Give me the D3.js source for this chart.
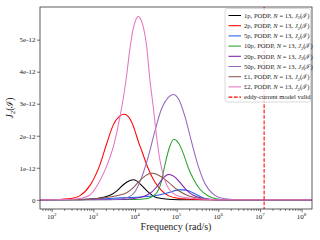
<!DOCTYPE html>
<html>
<head>
<meta charset="utf-8">
<script src="https://cdn.jsdelivr.net/npm/d3@7/dist/d3.min.js"></script>
<style>
body { margin: 0; background: #fff; }
svg { display: block; }
text { font-family: "Liberation Serif", "DejaVu Serif", serif; fill: #222; }
</style>
</head>
<body>
<div id="chart"></div>
<script>
// log10 of frequency (rad/s) and J2 values (in units of 1e-12)
const lw1p = [1.7, 2.5, 2.9, 3.08, 3.24, 3.40, 3.56, 3.72, 3.88, 3.96, 4.04, 4.16, 4.32, 4.48, 4.64, 4.9, 5.2, 6, 8.3];
const j1p  = [0, 0.003, 0.02, 0.04, 0.08, 0.14, 0.27, 0.47, 0.60, 0.625, 0.59, 0.45, 0.24, 0.09, 0.04, 0.01, 0, 0, 0];

const lw2p = [1.7, 2.0, 2.25, 2.5, 2.68, 2.92, 3.16, 3.32, 3.48, 3.64, 3.74, 3.84, 3.92, 4.0, 4.08, 4.16, 4.32, 4.48, 4.64, 4.80, 5.03, 5.5, 6, 8.3];
const j2p  = [0, 0.01, 0.02, 0.05, 0.13, 0.45, 1.1, 1.75, 2.34, 2.62, 2.67, 2.6, 2.43, 2.15, 1.82, 1.54, 0.97, 0.55, 0.29, 0.13, 0.05, 0.01, 0, 0];

const lw5p = [1.7, 2.0, 2.6, 3.16, 3.64, 4.12, 4.48, 4.8, 5.04, 5.16, 5.28, 5.44, 5.60, 5.76, 6.0, 8.3];
const j5p  = [0, 0.005, 0.01, 0.03, 0.06, 0.09, 0.13, 0.22, 0.31, 0.31, 0.28, 0.19, 0.08, 0.02, 0, 0];

const lw10p = [1.7, 4.0, 4.3, 4.44, 4.56, 4.64, 4.72, 4.84, 4.93, 5.04, 5.16, 5.28, 5.40, 5.56, 5.76, 5.92, 6.2, 8.3];
const j10p  = [0, 0.01, 0.04, 0.12, 0.3, 0.6, 1.1, 1.68, 1.89, 1.78, 1.45, 1.0, 0.66, 0.33, 0.12, 0.04, 0, 0];

const lw20p = [1.7, 3.6, 3.9, 4.12, 4.28, 4.40, 4.52, 4.68, 4.80, 4.90, 5.0, 5.12, 5.24, 5.40, 5.52, 5.8, 6.2, 8.3];
const j20p  = [0, 0.01, 0.03, 0.07, 0.14, 0.24, 0.40, 0.68, 0.79, 0.76, 0.66, 0.48, 0.3, 0.14, 0.08, 0.02, 0, 0];

const lw50p = [1.7, 3.2, 3.6, 3.84, 4.0, 4.16, 4.32, 4.48, 4.64, 4.80, 4.92, 5.04, 5.20, 5.36, 5.52, 5.64, 5.76, 5.92, 6.16, 6.5, 8.3];
const j50p  = [0, 0, 0.02, 0.08, 0.25, 0.7, 1.35, 2.15, 2.85, 3.2, 3.29, 3.16, 2.6, 1.8, 1.05, 0.62, 0.34, 0.14, 0.03, 0, 0];

const lwL1 = [1.7, 2.6, 3.16, 3.64, 3.80, 3.96, 4.08, 4.2, 4.3, 4.40, 4.52, 4.64, 4.80, 5.04, 5.28, 5.52, 5.8, 6.2, 8.3];
const jL1  = [0, 0.01, 0.05, 0.15, 0.22, 0.38, 0.55, 0.7, 0.79, 0.83, 0.80, 0.71, 0.55, 0.29, 0.13, 0.05, 0.01, 0, 0];

const lwL2 = [1.7, 2.5, 2.7, 2.92, 3.16, 3.32, 3.48, 3.64, 3.72, 3.80, 3.88, 3.96, 4.04, 4.08, 4.12, 4.2, 4.28, 4.36, 4.44, 4.52, 4.60, 4.72, 4.88, 5.12, 5.36, 5.7, 6.2, 8.3];
const jL2  = [0, 0.02, 0.05, 0.15, 0.6, 1.05, 1.65, 2.6, 3.17, 3.89, 4.73, 5.35, 5.67, 5.73, 5.68, 5.4, 4.8, 3.73, 2.89, 1.96, 1.23, 0.60, 0.24, 0.09, 0.05, 0.02, 0, 0];

const coinLabels = ["1p", "2p", "5p", "10p", "20p", "50p", "£1", "£2"];
const coinColors = ["#000000", "#ff0000", "#1f5fe8", "#2ca02c", "#7f1fb0", "#9467bd", "#8c564b", "#e377c2"];
const eddyLimit = 1.26e7;

const yTickValues = [0, 1, 2, 3, 4, 5];
const yTickLabels = ["0", "1e-12", "2e-12", "3e-12", "4e-12", "5e-12"];
const xTickExponents = [2, 3, 4, 5, 6, 7, 8];

const serif = "'Liberation Serif', 'DejaVu Serif', serif";

const series = [
    [lw1p, j1p], [lw2p, j2p], [lw5p, j5p], [lw10p, j10p],
    [lw20p, j20p], [lw50p, j50p], [lwL1, jL1], [lwL2, jL2]
].map(function(s, i) {
    return {
        label: coinLabels[i],
        color: coinColors[i],
        values: s[0].map(function(lw, k) { return { f: Math.pow(10, lw), j: s[1][k] }; })
    };
});

const width = 320, height = 240;
const margin = { top: 7, right: 8, bottom: 31, left: 40 };

const x = d3.scaleLog()
    .domain([Math.pow(10, 1.72), Math.pow(10, 8.25)])
    .range([margin.left, width - margin.right]);

const y = d3.scaleLinear()
    .domain([-0.287, 6.02])
    .range([height - margin.bottom, margin.top]);

const svg = d3.select("#chart").append("svg")
    .attr("width", width)
    .attr("height", height);

svg.append("clipPath").attr("id", "clip")
    .append("rect")
    .attr("x", margin.left).attr("y", margin.top)
    .attr("width", width - margin.left - margin.right)
    .attr("height", height - margin.top - margin.bottom);

// x axis: major + minor ticks
const majorTicks = xTickExponents.map(function(e) { return Math.pow(10, e); });
const minorTicks = x.ticks().filter(function(t) {
    return majorTicks.indexOf(t) < 0;
});

const xAxisMinor = svg.append("g")
    .attr("transform", "translate(0," + (height - margin.bottom) + ")")
    .call(d3.axisBottom(x).tickValues(minorTicks).tickSize(1.8).tickFormat(""));
const xAxisMajor = svg.append("g")
    .attr("transform", "translate(0," + (height - margin.bottom) + ")")
    .call(d3.axisBottom(x).tickValues(majorTicks).tickSize(3.2).tickFormat(""));
[xAxisMinor, xAxisMajor].forEach(function(g) {
    g.select(".domain").remove();
    g.selectAll("line").attr("stroke", "#333").attr("stroke-width", 0.7);
});

const xLabels = svg.append("g");
xTickExponents.forEach(function(e) {
    const t = xLabels.append("text")
        .attr("x", x(Math.pow(10, e)))
        .attr("y", 219)
        .attr("text-anchor", "middle")
        .style("font-family", serif)
        .style("font-size", "7px");
    t.append("tspan").text("10");
    t.append("tspan").attr("dy", -3).style("font-size", "5px").text(e);
});

// y axis
const yAxis = svg.append("g")
    .attr("transform", "translate(" + margin.left + ",0)")
    .call(d3.axisLeft(y).tickValues(yTickValues).tickSize(3.2)
        .tickFormat(function(d, i) { return yTickLabels[i]; }));
yAxis.select(".domain").remove();
yAxis.selectAll("line").attr("stroke", "#333").attr("stroke-width", 0.7);
yAxis.selectAll("text")
    .attr("x", -4.5)
    .style("font-size", "7px")
    .style("font-family", serif)
    .attr("fill", "#222");

// curves
const line = d3.line()
    .x(function(d) { return x(d.f); })
    .y(function(d) { return y(d.j); })
    .curve(d3.curveMonotoneX);

const plot = svg.append("g").attr("clip-path", "url(#clip)");

series.forEach(function(s) {
    plot.append("path")
        .datum(s.values)
        .attr("fill", "none")
        .attr("stroke", s.color)
        .attr("stroke-width", 1.05)
        .attr("d", line);
});

plot.append("line")
    .attr("x1", x(eddyLimit)).attr("x2", x(eddyLimit))
    .attr("y1", margin.top).attr("y2", height - margin.bottom)
    .attr("stroke", "#ff0000")
    .attr("stroke-width", 1.05)
    .attr("stroke-dasharray", "3.8,1.6");

// frame
svg.append("rect")
    .attr("x", margin.left).attr("y", margin.top)
    .attr("width", width - margin.left - margin.right)
    .attr("height", height - margin.top - margin.bottom)
    .attr("fill", "none")
    .attr("stroke", "#333")
    .attr("stroke-width", 0.8);

// axis titles
svg.append("text")
    .attr("x", (margin.left + width - margin.right) / 2)
    .attr("y", 230)
    .attr("text-anchor", "middle")
    .style("font-family", serif)
    .style("font-size", "10px")
    .text("Frequency (rad/s)");

const yTitle = svg.append("text")
    .attr("transform", "translate(13," + ((margin.top + height - margin.bottom) / 2) + ") rotate(-90)")
    .attr("text-anchor", "middle")
    .style("font-family", serif)
    .style("font-size", "9.5px");
yTitle.append("tspan").style("font-style", "italic").text("J");
yTitle.append("tspan").attr("dy", 2).style("font-size", "7px").text("2");
yTitle.append("tspan").attr("dy", -2).text("(ℐ)");

// legend
const legend = svg.append("g");
legend.append("rect")
    .attr("x", 225).attr("y", 8.5)
    .attr("width", 85.5).attr("height", 93.5)
    .attr("rx", 2)
    .attr("fill", "#fff").attr("fill-opacity", 0.8)
    .attr("stroke", "#d0d0d0").attr("stroke-width", 0.8);

const legendItems = series.map(function(s) {
    return { label: s.label, color: s.color, dashed: false };
});
legendItems.push({ label: null, color: "#ff0000", dashed: true });

legendItems.forEach(function(d, i) {
    const cy = 15.5 + i * 10.2;
    legend.append("line")
        .attr("x1", 228.5).attr("x2", 241)
        .attr("y1", cy).attr("y2", cy)
        .attr("stroke", d.color)
        .attr("stroke-width", 1.05)
        .attr("stroke-dasharray", d.dashed ? "3.8,1.6" : null);
    const t = legend.append("text")
        .attr("x", 244)
        .attr("y", cy + 2.3)
        .style("font-family", serif)
        .style("font-size", "6.6px");
    if (d.label === null) {
        t.text("eddy-current model valid");
    } else {
        t.append("tspan").text(d.label + ", PODP, ");
        t.append("tspan").style("font-style", "italic").text("N");
        t.append("tspan").text(" = 13, ");
        t.append("tspan").style("font-style", "italic").text("J");
        t.append("tspan").attr("dy", 1.5).style("font-size", "4.8px").text("2");
        t.append("tspan").attr("dy", -1.5).text("(ℐ)");
    }
});
</script>
</body>
</html>
